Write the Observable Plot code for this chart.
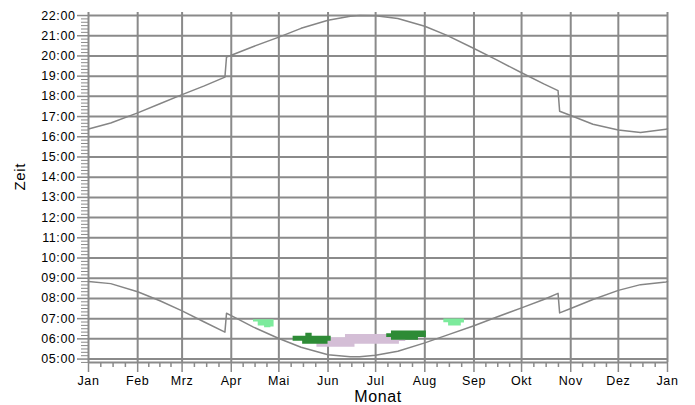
<!DOCTYPE html>
<html><head><meta charset="utf-8">
<script src="https://cdn.jsdelivr.net/npm/d3@7"></script>
<script src="https://cdn.jsdelivr.net/npm/@observablehq/plot@0.6"></script>
<style>
body{margin:0;background:#fff}
#chart svg{display:block;font-family:"Liberation Sans",Arial,sans-serif}
#chart svg text{letter-spacing:0.6px}
</style>
</head><body><div id="chart"></div>
<script>
// Month axis
const monthLabels = ["Jan","Feb","Mrz","Apr","Mai","Jun","Jul","Aug","Sep","Okt","Nov","Dez","Jan"];
const monthStarts = ["2015-01-01","2015-02-01","2015-03-01","2015-04-01","2015-05-01","2015-06-01","2015-07-01","2015-08-01","2015-09-01","2015-10-01","2015-11-01","2015-12-01","2016-01-01"];
const hourTicks = [5,6,7,8,9,10,11,12,13,14,15,16,17,18,19,20,21,22];

// Sunrise / sunset (local time, with DST jumps)
const sunDates = ["2015-01-01","2015-01-15","2015-02-01","2015-02-15","2015-03-01","2015-03-15","2015-03-28","2015-03-29","2015-04-01","2015-04-15","2015-05-01","2015-05-15","2015-06-01","2015-06-15","2015-06-21","2015-07-01","2015-07-15","2015-08-01","2015-08-15","2015-09-01","2015-09-15","2015-10-01","2015-10-15","2015-10-24","2015-10-25","2015-11-01","2015-11-15","2015-12-01","2015-12-15","2015-12-31","2016-01-01"];
const sunriseTimes = ["08:50","08:44","08:20","07:53","07:23","06:50","06:20","07:16","07:09","06:35","06:01","05:35","05:13","05:07","05:07","05:11","05:23","05:48","06:11","06:39","07:04","07:32","07:57","08:15","07:17","07:30","07:57","08:24","08:41","08:49","08:50"];
const sunsetTimes  = ["16:23","16:41","17:11","17:38","18:05","18:31","18:57","19:57","20:02","20:28","20:56","21:22","21:46","21:58","22:00","21:59","21:51","21:28","21:01","20:22","19:49","19:10","18:37","18:17","17:16","17:03","16:37","16:20","16:13","16:22","16:24"];

// Coloured blobs: dates with low / high time
const lightGreenA = {dates:["2015-04-15","2015-04-18","2015-04-22","2015-04-26","2015-04-28"], low:["06:50","06:38","06:33","06:35","06:35"], high:["06:57","06:57","06:57","06:57","06:57"]};
const darkGreenA  = {dates:["2015-05-10","2015-05-16","2015-05-18","2015-05-22","2015-06-01","2015-06-03"], low:["05:53","05:44","05:44","05:44","05:53","05:53"], high:["06:08","06:08","06:17","06:08","06:08","06:08"]};
const purpleBlob  = {dates:["2015-05-25","2015-06-12","2015-06-18","2015-07-16","2015-07-20","2015-07-24"], low:["05:35","05:35","05:44","05:52","05:58","05:58"], high:["06:03","06:13","06:13","06:13","06:05","06:05"]};
const darkGreenB  = {dates:["2015-07-08","2015-07-11","2015-07-28","2015-08-02"], low:["06:04","05:56","06:04","06:04"], high:["06:15","06:23","06:23","06:23"]};
const lightGreenB = {dates:["2015-08-13","2015-08-16","2015-08-21","2015-08-24","2015-08-26"], low:["06:48","06:38","06:38","06:47","06:47"], high:["06:59","06:59","06:59","06:59","06:59"]};

const pd = d3.utcParse("%Y-%m-%d");
const ph = s => { const [h,m] = s.split(":").map(Number); return h + m/60; };

const sunData = sunDates.map((d,i) => ({date: pd(d), rise: ph(sunriseTimes[i]), set: ph(sunsetTimes[i])}));
const blobRows = b => b.dates.map((d,i) => ({date: pd(d), lo: ph(b.low[i]), hi: ph(b.high[i])}));

const mStarts = monthStarts.map(pd);
const minorX = [];
for (let i = 0; i < 12; i++) {
  const a = +mStarts[i], b = +mStarts[i+1];
  for (let k = 1; k < 4; k++) minorX.push(new Date(a + (b - a) * k / 4));
}
const yMin = 4.83, yMax = 22.15;
const minorY = [];
for (let h = 5; h < 22; h++) for (let k = 1; k < 6; k++) minorY.push(h + k/6);
minorY.push(...[1,2,3,4,5].map(k => 4 + k/6).filter(v => v > yMin));

const GRID = "#8a8a8a";
const LINE = "#858585";

const blobMark = (b, color) => Plot.areaY(blobRows(b), {x: "date", y1: "lo", y2: "hi", fill: color, curve: "step-after"});

const plot = Plot.plot({
  width: 695, height: 405,
  marginTop: 12, marginBottom: 43, marginLeft: 88, marginRight: 28,
  x: {type: "utc", domain: [mStarts[0], mStarts[12]], axis: null},
  y: {domain: [yMin, yMax], axis: null},
  marks: [
    Plot.ruleY(hourTicks, {stroke: GRID, strokeWidth: 2}),
    Plot.ruleX(mStarts, {stroke: GRID, strokeWidth: 2}),
    Plot.ruleY([yMin], {stroke: GRID, strokeWidth: 2}),
    Plot.axisX(mStarts, {tickSize: 10, tickPadding: 4, stroke: GRID, strokeWidth: 1.5, fill: "#000", fontSize: 12.5, tickFormat: (d, i) => monthLabels[i], label: null}),
    Plot.axisX(minorX, {tickSize: 5, stroke: GRID, strokeWidth: 1.5, text: null, label: null}),
    Plot.axisY(hourTicks, {tickSize: 11, tickPadding: 2, stroke: GRID, strokeWidth: 1.5, fill: "#000", fontSize: 12.5, tickFormat: h => String(h).padStart(2, "0") + ":00", label: null}),
    Plot.axisY(minorY, {tickSize: 7, stroke: GRID, strokeWidth: 1, text: null, label: null}),
    blobMark(purpleBlob, "#d4bed6"),
    blobMark(lightGreenA, "#7ceb9c"),
    blobMark(darkGreenA, "#2e8b36"),
    blobMark(darkGreenB, "#2e8b36"),
    blobMark(lightGreenB, "#7ceb9c"),
    Plot.line(sunData, {x: "date", y: "rise", stroke: LINE, strokeWidth: 1.5}),
    Plot.line(sunData, {x: "date", y: "set", stroke: LINE, strokeWidth: 1.5}),
    Plot.text(["Monat"], {frameAnchor: "bottom", dy: 39, fontSize: 16, fill: "#000"}),
    Plot.text(["Zeit"], {frameAnchor: "left", dx: -68, dy: 3, rotate: -90, fontSize: 15, fill: "#000"})
  ]
});
document.getElementById("chart").appendChild(plot);
</script>
</body></html>
